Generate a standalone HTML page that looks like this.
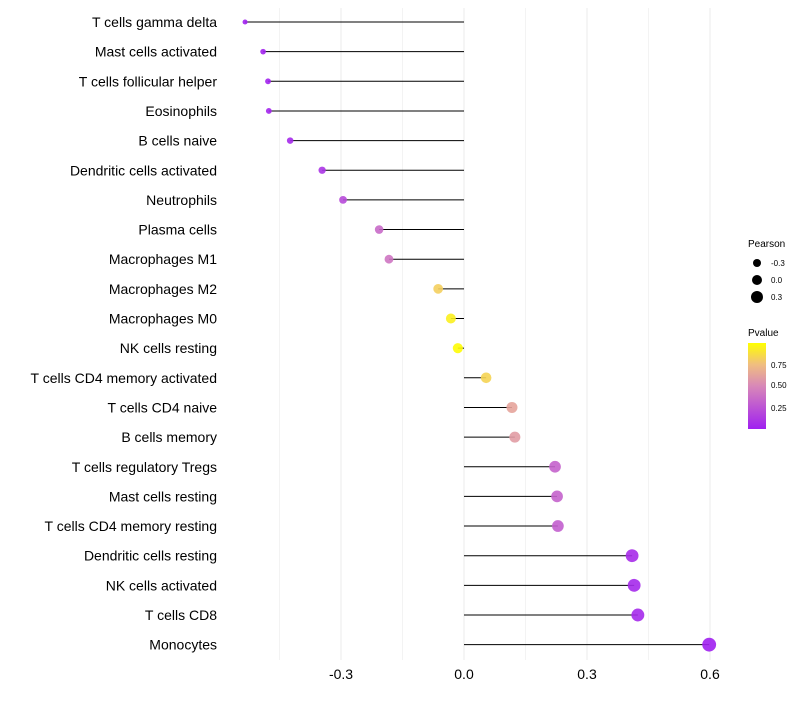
<!DOCTYPE html>
<html><head><meta charset="utf-8"><style>
body{margin:0;background:#fff;font-family:"Liberation Sans",sans-serif;}
</style></head><body>
<svg id="chart" width="800" height="700" xmlns="http://www.w3.org/2000/svg">
<defs><linearGradient id="pg" x1="0" y1="1" x2="0" y2="0">
<stop offset="0" stop-color="#A020F0"/><stop offset="0.5" stop-color="#D888B8"/><stop offset="0.75" stop-color="#F0BE80"/><stop offset="1" stop-color="#FFFF00"/></linearGradient></defs>
<g id="grid"></g><g id="marks"></g><g id="labels"></g>
<g font-size="10" fill="#000">
<text x="748" y="247">Pearson</text>
<circle cx="757" cy="263" r="4"/>
<text x="771" y="266" font-size="8">-0.3</text>
<circle cx="757" cy="280" r="5"/>
<text x="771" y="283" font-size="8">0.0</text>
<circle cx="757" cy="297" r="6"/>
<text x="771" y="300" font-size="8">0.3</text>
<text x="748" y="336">Pvalue</text>
<rect x="748" y="343" width="18" height="86" fill="url(#pg)"/>
<text x="771" y="368" font-size="8">0.75</text>
<text x="771" y="388" font-size="8">0.50</text>
<text x="771" y="411" font-size="8">0.25</text>
</g>
</svg>
<script>
const categories=["T cells gamma delta","Mast cells activated","T cells follicular helper","Eosinophils","B cells naive","Dendritic cells activated","Neutrophils","Plasma cells","Macrophages M1","Macrophages M2","Macrophages M0","NK cells resting","T cells CD4 memory activated","T cells CD4 naive","B cells memory","T cells regulatory  Tregs ","Mast cells resting","T cells CD4 memory resting","Dendritic cells resting","NK cells activated","T cells CD8","Monocytes"];
const pearson=[-0.534,-0.49,-0.478,-0.476,-0.424,-0.346,-0.295,-0.207,-0.183,-0.063,-0.032,-0.015,0.054,0.117,0.124,0.222,0.227,0.229,0.41,0.415,0.424,0.598];
const pvalue=[0.01,0.02,0.02,0.03,0.05,0.1,0.2,0.35,0.4,0.8,0.92,0.97,0.82,0.62,0.58,0.32,0.32,0.3,0.06,0.05,0.05,0.003];
const xTicks=[-0.3,0,0.3,0.6];
const xTickLabels=["-0.3","0.0","0.3","0.6"];
const NS="http://www.w3.org/2000/svg";
const X=v=>464+v*410;
const Y=i=>22+i*29.65;
function mk(t,a,p){const e=document.createElementNS(NS,t);for(const k in a)e.setAttribute(k,a[k]);p.appendChild(e);return e;}
const grid=document.getElementById('grid'),marks=document.getElementById('marks'),labels=document.getElementById('labels');
const stops=[[0,[160,32,240]],[0.5,[216,136,184]],[0.75,[240,190,128]],[1,[255,255,0]]];
function col(p){const t=Math.max(0,Math.min(1,(p-0.003)/(0.98-0.003)));for(let i=1;i<stops.length;i++){if(t<=stops[i][0]){const a=stops[i-1],b=stops[i],f=(t-a[0])/(b[0]-a[0]);return 'rgb('+a[1].map((c,j)=>Math.round(c+(b[1][j]-c)*f)).join(',')+')';}}return 'rgb(255,255,0)';}
[-0.45,-0.3,-0.15,0,0.15,0.3,0.45,0.6].forEach(v=>{
const g=mk('line',{x1:X(v),x2:X(v),y1:8,y2:660,stroke:'#ebebeb','stroke-width':Number.isInteger(Math.round(v*100)/30)?1:0.6},grid);


});
xTicks.forEach((v,i)=>{
const t=mk('text',{x:X(v),y:679,'text-anchor':'middle','font-size':14,fill:'#000'},labels);t.textContent=xTickLabels[i];


});
categories.forEach((c,i)=>{
const t=mk('text',{x:217,y:Y(i)+5,'text-anchor':'end','font-size':14,fill:'#000'},labels);t.textContent=c;


const l=mk('line',{x1:X(0),x2:X(pearson[i]),y1:Y(i),y2:Y(i),stroke:'#000','stroke-width':1},marks);


const r=Math.sqrt(Math.max(3,26+33.3*pearson[i]*1.1));
const d=mk('circle',{cx:X(pearson[i]),cy:Y(i),r:r,fill:col(pvalue[i]),'fill-opacity':0.9},marks);


});
</script>
</body></html>
